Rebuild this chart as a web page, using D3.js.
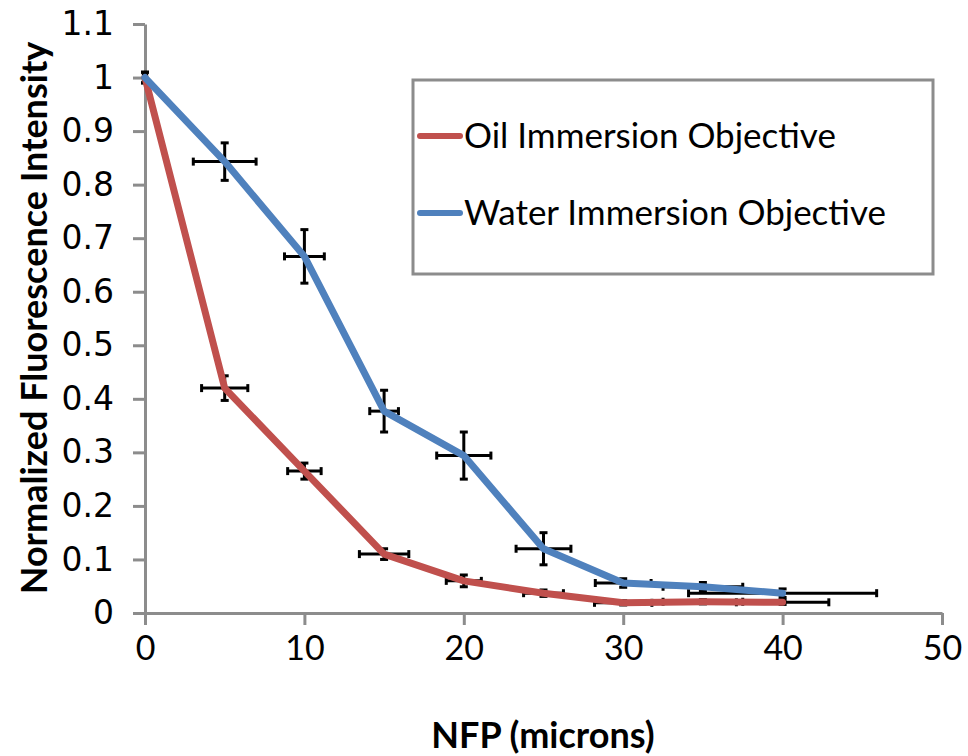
<!DOCTYPE html>
<html>
<head>
<meta charset="utf-8">
<script src="https://cdn.jsdelivr.net/npm/d3@7"></script>
<style>
  html, body { margin: 0; padding: 0; background: #fff; }
  svg { display: block; }
</style>
</head>
<body>
<svg id="chart" width="968" height="756"></svg>
<script>
// ---- data ----
const nfp = [0, 5, 10, 15, 20, 25, 30, 35, 40];
const oil = [1.0, 0.42, 0.265, 0.11, 0.06, 0.037, 0.019, 0.021, 0.02];
const oilXErr = [0.1, 1.45, 1.05, 1.55, 1.1, 1.25, 1.8, 2.5, 2.9];
const oilYErr = [0.01, 0.023, 0.015, 0.01, 0.011, 0.006, 0.004, 0.004, 0.004];
const water = [1.0, 0.843, 0.666, 0.377, 0.294, 0.12, 0.056, 0.049, 0.037];
const waterXErr = [0.1, 1.97, 1.25, 0.9, 1.7, 1.72, 1.75, 2.5, 5.9];
const waterYErr = [0.01, 0.035, 0.05, 0.039, 0.044, 0.03, 0.008, 0.008, 0.008];
const seriesNames = ["Oil Immersion Objective", "Water Immersion Objective"];
const seriesColors = ["#C0504D", "#4F81BD"];
const xTicks = [0, 10, 20, 30, 40, 50];
const yTicks = [0, 0.1, 0.2, 0.3, 0.4, 0.5, 0.6, 0.7, 0.8, 0.9, 1, 1.1];
const xTitle = "NFP (microns)";
const yTitle = "Normalized Fluorescence Intensity";

const svg = d3.select("#chart");
const x = d3.scaleLinear().domain([0, 50]).range([145, 942]);
const y = d3.scaleLinear().domain([0, 1.1]).range([613, 24]);
const axisColor = "#8c8c8c";

// y axis
const yAxis = svg.append("g").attr("transform", `translate(${x(0)},0)`)
  .call(d3.axisLeft(y).tickValues(yTicks).tickSize(12).tickSizeOuter(0).tickPadding(19)
    .tickFormat(d => d3.format("~g")(d)));
yAxis.selectAll("path, line").attr("stroke", axisColor).attr("stroke-width", 3);
yAxis.selectAll("text").attr("font-family", "DejaVu Sans").attr("font-size", 33).attr("fill", "#000");

// x axis
const xAxis = svg.append("g").attr("transform", `translate(0,${y(0)})`)
  .call(d3.axisBottom(x).tickValues(xTicks).tickSize(12).tickSizeOuter(0).tickPadding(11));
xAxis.selectAll("path, line").attr("stroke", axisColor).attr("stroke-width", 3);
xAxis.selectAll("text").attr("font-family", "Lato").attr("font-size", 34).attr("fill", "#000");

// titles
svg.append("text").attr("x", 543).attr("y", 748).attr("text-anchor", "middle")
  .attr("font-family", "Lato").attr("font-weight", "bold").attr("font-size", 36).text(xTitle);
svg.append("text").attr("transform", "translate(47,318) rotate(-90)").attr("text-anchor", "middle")
  .attr("font-family", "Lato").attr("font-weight", "bold").attr("font-size", 36).text(yTitle);

const series = [
  { vals: oil, xe: oilXErr, ye: oilYErr },
  { vals: water, xe: waterXErr, ye: waterYErr }
];

// error bars
const eb = svg.append("g").attr("stroke", "#000").attr("stroke-width", 3);
const cap = 4;
series.forEach(s => {
  nfp.forEach((xv, i) => {
    const cx = x(xv), cy = y(s.vals[i]);
    const x0 = x(xv - s.xe[i]), x1 = x(xv + s.xe[i]);
    const y0 = y(s.vals[i] + s.ye[i]), y1 = y(s.vals[i] - s.ye[i]);
    eb.append("line").attr("x1", x0).attr("x2", x1).attr("y1", cy).attr("y2", cy);
    eb.append("line").attr("x1", x0).attr("x2", x0).attr("y1", cy - cap).attr("y2", cy + cap);
    eb.append("line").attr("x1", x1).attr("x2", x1).attr("y1", cy - cap).attr("y2", cy + cap);
    eb.append("line").attr("x1", cx).attr("x2", cx).attr("y1", y0).attr("y2", y1);
    eb.append("line").attr("x1", cx - cap).attr("x2", cx + cap).attr("y1", y0).attr("y2", y0);
    eb.append("line").attr("x1", cx - cap).attr("x2", cx + cap).attr("y1", y1).attr("y2", y1);
  });
});

// lines
const line = d3.line().x((d, i) => x(nfp[i])).y(d => y(d));
series.forEach((s, k) => {
  svg.append("path").datum(s.vals).attr("d", line).attr("fill", "none")
    .attr("stroke", seriesColors[k]).attr("stroke-width", 7)
    .attr("stroke-linejoin", "round").attr("stroke-linecap", "round");
});

// legend
const lg = svg.append("g");
lg.append("rect").attr("x", 413).attr("y", 80).attr("width", 520).attr("height", 194)
  .attr("fill", "#fff").attr("stroke", axisColor).attr("stroke-width", 3);
const legY = [136, 213];
seriesNames.forEach((n, k) => {
  lg.append("line").attr("x1", 420).attr("x2", 460).attr("y1", legY[k]).attr("y2", legY[k])
    .attr("stroke", seriesColors[k]).attr("stroke-width", 6).attr("stroke-linecap", "round");
  lg.append("text").attr("x", 464).attr("y", legY[k] + 12).attr("font-family", "Lato")
    .attr("font-size", 35).attr("fill", "#000").text(n);
});
</script>
</body>
</html>
